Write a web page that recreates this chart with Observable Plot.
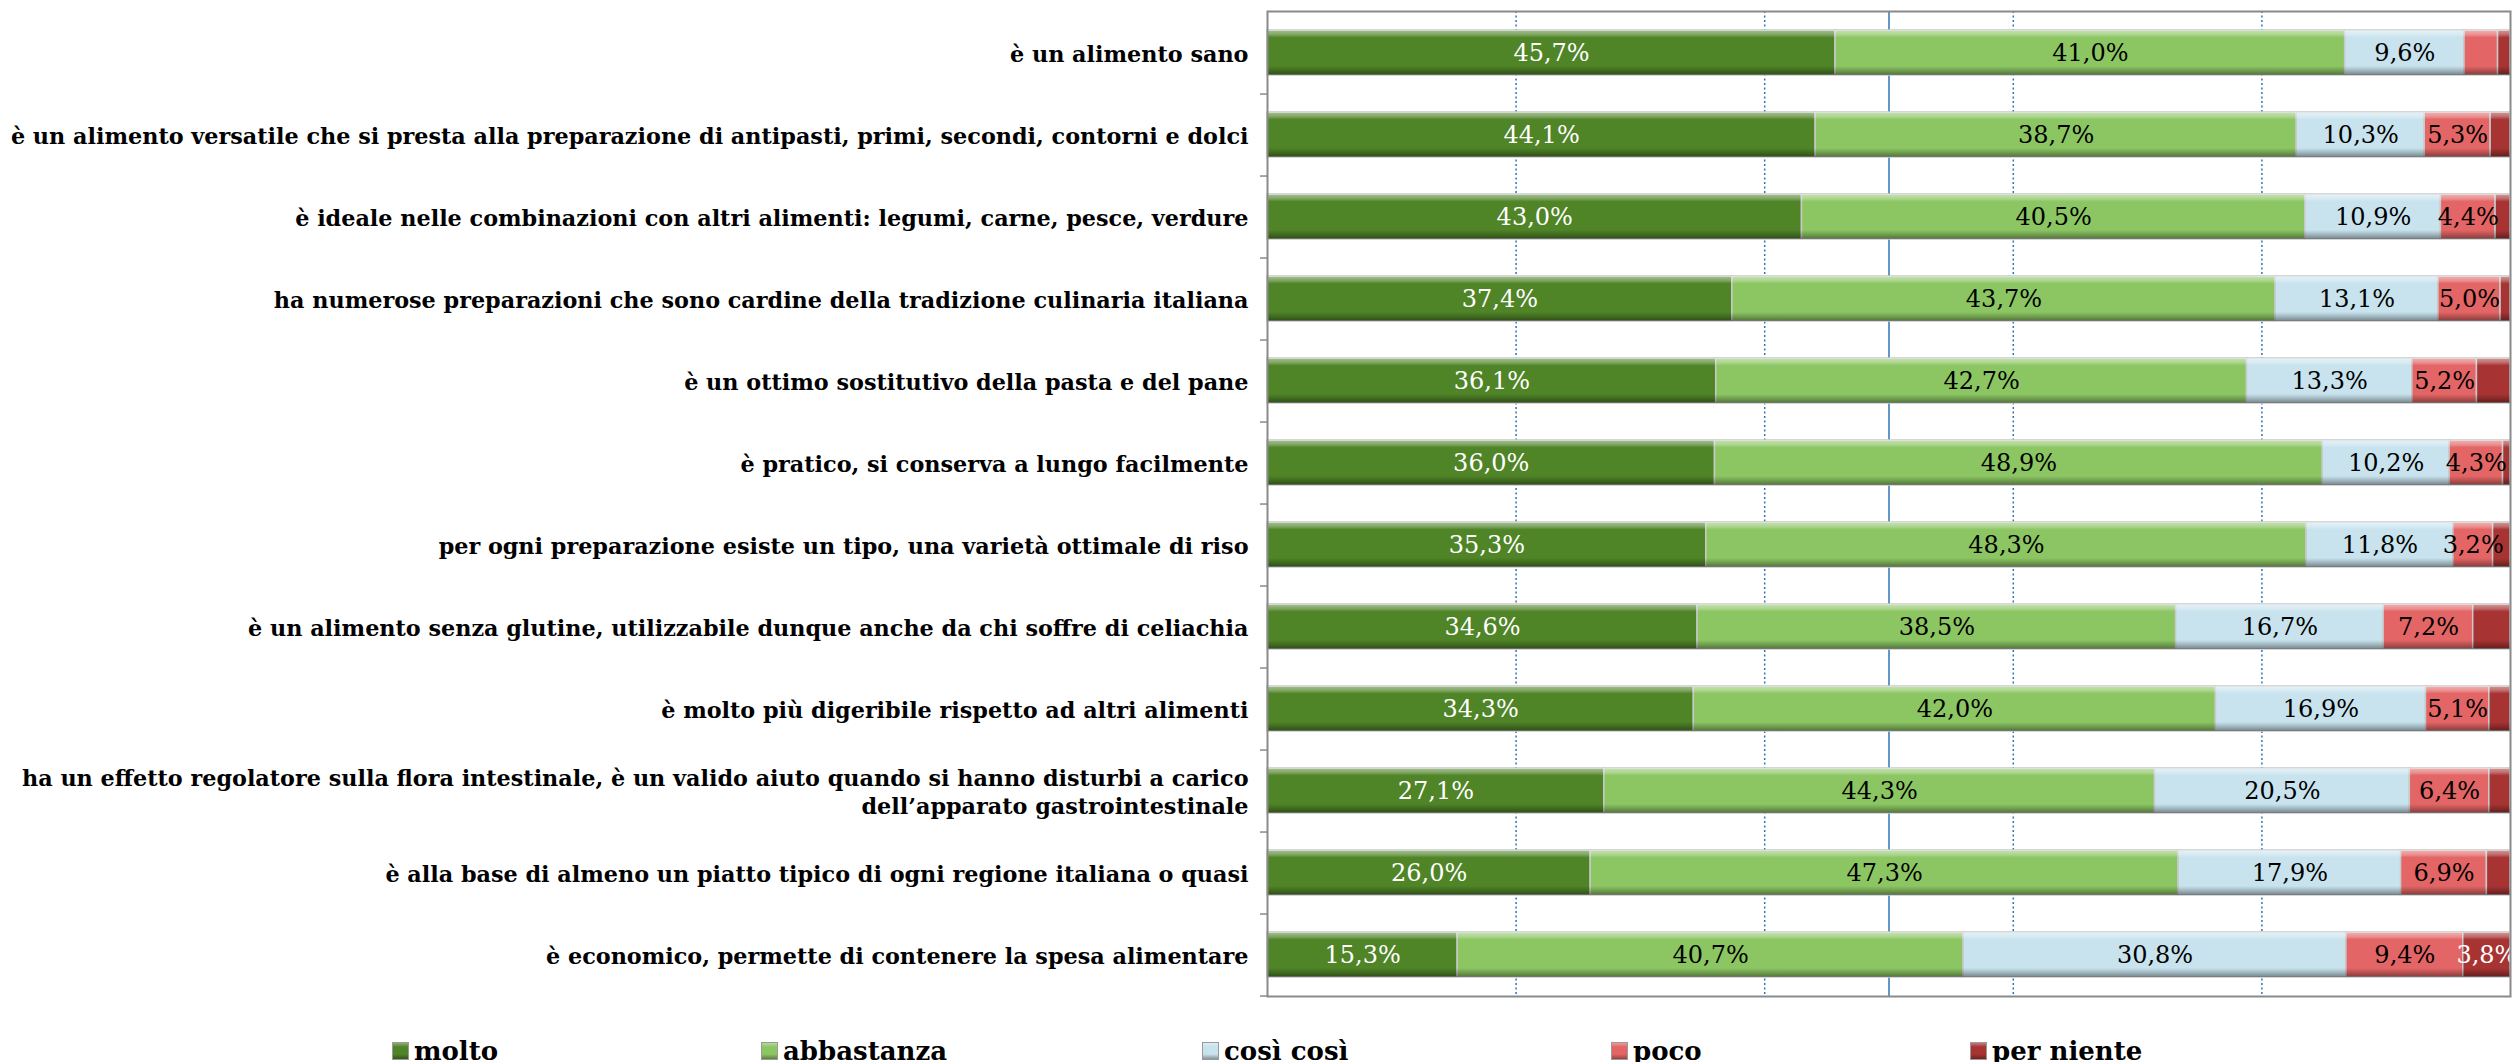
<!DOCTYPE html>
<html><head><meta charset="utf-8">
<script src="https://cdn.jsdelivr.net/npm/d3@7"></script>
<script src="https://cdn.jsdelivr.net/npm/@observablehq/plot@0.6"></script>
<style>
html,body{margin:0;padding:0;background:#fff;overflow:hidden;}
#chart{width:2519px;height:1062px;position:relative;}
#chart svg{display:block;}
#legend{position:relative;height:62px;width:2519px;}
.item{position:absolute;top:36px;height:30px;display:flex;align-items:center;font:bold 26px 'DejaVu Serif';color:#000;white-space:nowrap;}
.sw{width:15px;height:16px;border:1px solid #9a9a9a;margin-right:5px;box-sizing:content-box;}
</style></head>
<body><div id="chart"></div>
<script>
const categories = [
  "è un alimento sano",
  "è un alimento versatile che si presta alla preparazione di antipasti, primi, secondi, contorni e dolci",
  "è ideale nelle combinazioni con altri alimenti: legumi, carne, pesce, verdure",
  "ha numerose preparazioni che sono cardine della tradizione culinaria italiana",
  "è un ottimo sostitutivo della pasta e del pane",
  "è pratico, si conserva a lungo facilmente",
  "per ogni preparazione esiste un tipo, una varietà ottimale di riso",
  "è un alimento senza glutine, utilizzabile dunque anche da chi soffre di celiachia",
  "è molto più digeribile rispetto ad altri alimenti",
  "ha un effetto regolatore sulla flora intestinale, è un valido aiuto quando si hanno disturbi a carico\ndell’apparato gastrointestinale",
  "è alla base di almeno un piatto tipico di ogni regione italiana o quasi",
  "è economico, permette di contenere la spesa alimentare"
];
const series = ["molto", "abbastanza", "così così", "poco", "per niente"];
const molto      = [45.7, 44.1, 43.0, 37.4, 36.1, 36.0, 35.3, 34.6, 34.3, 27.1, 26.0, 15.3];
const abbastanza = [41.0, 38.7, 40.5, 43.7, 42.7, 48.9, 48.3, 38.5, 42.0, 44.3, 47.3, 40.7];
const cosiCosi   = [ 9.6, 10.3, 10.9, 13.1, 13.3, 10.2, 11.8, 16.7, 16.9, 20.5, 17.9, 30.8];
const poco       = [ 2.7,  5.3,  4.4,  5.0,  5.2,  4.3,  3.2,  7.2,  5.1,  6.4,  6.9,  9.4];
const perNiente  = [ 1.0,  1.6,  1.2,  0.8,  2.7,  0.6,  1.4,  3.0,  1.7,  1.7,  1.9,  3.8];
const gridDashed = [20, 40, 60, 80];
const gridSolid = [50];

const colors  = ["#4f8427", "#8cc663", "#c8e3ee", "#e46565", "#a83333"];
const labelBg = ["#4a7a23", "#7dbb5b", "#bcd6e3", "#df5e5e", "#a33030"];
const labelInk = ["#ffffff", "#000000", "#000000", "#000000", "#ffffff"];

const valuesBySeries = [molto, abbastanza, cosiCosi, poco, perNiente];
const rows = [];
categories.forEach((c, ci) => {
  series.forEach((s, si) => rows.push({category: c, series: s, value: valuesBySeries[si][ci]}));
});
const fmt = v => d3.format(".1f")(v).replace(".", ",") + "%";

const W = 2519, H = 1000, mL = 1267, mR = 9, mT = 11, mB = 4;
const step = (H - mT - mB) / categories.length;

const plot = Plot.plot({
  width: W, height: H,
  marginLeft: mL, marginRight: mR, marginTop: mT, marginBottom: mB,
  style: {fontFamily: "DejaVu Serif", background: "#ffffff", color: "#000"},
  x: {domain: [0, 100], axis: null},
  y: {domain: categories, paddingInner: 0.45, paddingOuter: 0.225, label: null},
  color: {domain: series, range: colors},
  marks: [
    Plot.ruleX(gridDashed, {stroke: "#2e75b6", strokeWidth: 1.5, strokeDasharray: "2,2.5"}),
    Plot.ruleX(gridSolid, {stroke: "#2e75b6", strokeWidth: 1.5}),
    Plot.barX(rows, Plot.stackX({x: "value", y: "category", fill: "series", stroke: "#c9c9c9", strokeWidth: 1.5})),
    Plot.barX(rows, Plot.stackX({x: "value", y: "category", z: "series", fill: "url(#bevelV)"})),
    ...series.map((s, si) => Plot.text(rows, Plot.stackX({
      x: "value", y: "category", z: "series",
      text: d => (d.series === s && d.value >= 3.1) ? fmt(d.value) : "",
      fill: labelInk[si], fontSize: 24, fontFamily: "DejaVu Serif",
      ariaLabel: "vlabel-" + si
    }))),
    Plot.axisY({tickSize: 7, tickFormat: () => "", dy: step / 2, stroke: "#8a8a8a", strokeWidth: 1.5}),
    Plot.axisY({tickSize: 0, tickPadding: 19, fontSize: 22.3, fontWeight: "bold", fontFamily: "DejaVu Serif",
                lineHeight: 1.25, fill: "#000", textOverflow: null, tickFormat: d => d, ariaLabel: "ylabels"}),
    Plot.frame({stroke: "#8a8a8a", strokeWidth: 2})
  ]
});

const chart = document.getElementById("chart");
chart.appendChild(plot);

const ns = "http://www.w3.org/2000/svg";
const defs = document.createElementNS(ns, "defs");
defs.innerHTML = `
<linearGradient id="bevelV" x1="0" y1="0" x2="0" y2="1">
  <stop offset="0" stop-color="#ffffff" stop-opacity="0.5"/>
  <stop offset="0.1" stop-color="#ffffff" stop-opacity="0.28"/>
  <stop offset="0.17" stop-color="#ffffff" stop-opacity="0"/>
  <stop offset="0.8" stop-color="#000000" stop-opacity="0"/>
  <stop offset="0.9" stop-color="#000000" stop-opacity="0.2"/>
  <stop offset="1" stop-color="#000000" stop-opacity="0.42"/>
</linearGradient>`;
plot.insertBefore(defs, plot.firstChild);

// label background boxes
series.forEach((s, si) => {
  plot.querySelectorAll(`g[aria-label="vlabel-${si}"] text`).forEach(t => {
    if (!t.textContent) return;
    const b = t.getBBox();
    const r = document.createElementNS(ns, "rect");
    const cy = b.y + b.height / 2;
    r.setAttribute("x", b.x - 2);
    r.setAttribute("width", b.width + 4);
    r.setAttribute("y", cy - 17);
    r.setAttribute("height", 34);
    r.setAttribute("fill", labelBg[si]);
    const tr = t.getAttribute("transform");
    if (tr) r.setAttribute("transform", tr);
    t.parentNode.insertBefore(r, t);
  });
});

// center continuation lines of multi-line labels under the first line
plot.querySelectorAll('g[aria-label="ylabels"] text').forEach(t => {
  const ts = t.querySelectorAll("tspan");
  if (ts.length > 1) {
    const w = ts[0].getComputedTextLength();
    for (let k = 1; k < ts.length; k++) {
      ts[k].setAttribute("x", -w / 2);
      ts[k].setAttribute("text-anchor", "middle");
    }
  }
});

// legend
const legend = document.createElement("div");
legend.id = "legend";
const legendX = [392, 761, 1202, 1611, 1970];
series.forEach((s, si) => {
  const it = document.createElement("div");
  it.className = "item";
  it.style.left = legendX[si] + "px";
  const sw = document.createElement("span");
  sw.className = "sw";
  sw.style.background = `linear-gradient(to bottom, rgba(255,255,255,0.35), rgba(255,255,255,0) 25%, rgba(0,0,0,0) 70%, rgba(0,0,0,0.35)), ${colors[si]}`;
  const tx = document.createElement("span");
  tx.textContent = s;
  it.appendChild(sw); it.appendChild(tx);
  legend.appendChild(it);
});
chart.appendChild(legend);
</script>
</body></html>
